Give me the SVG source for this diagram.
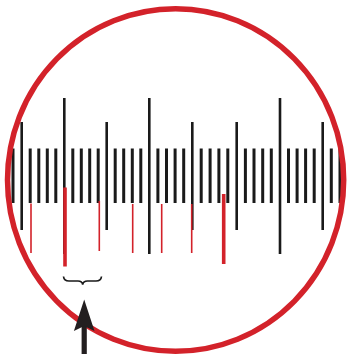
<svg xmlns="http://www.w3.org/2000/svg" width="347" height="354" viewBox="0 0 347 354">
<style>
.s{stroke:#1a1a1a;stroke-width:3;fill:none}
.m{stroke:#1a1a1a;stroke-width:2.6;fill:none}
.rt{stroke:#d3222a;stroke-width:1.6;fill:none}
.rk{stroke:#d3222a;stroke-width:3.6;fill:none}
</style>
<rect width="347" height="354" fill="#ffffff"/>
<g id="scale-short">
<path class="s" d="M13,148.5V203M30.2,148.5V203M38.8,148.5V203M47.3,148.5V203M55.8,148.5V203M72.8,148.5V203M81.3,148.5V203M89.7,148.5V203M98.2,148.5V203M115.2,148.5V203M123.7,148.5V203M132.3,148.5V203M140.8,148.5V203M157.9,148.5V203M166.5,148.5V203M175.1,148.5V203M183.7,148.5V203M201.2,148.5V203M210.1,148.5V203M218.9,148.5V203M227.8,148.5V203M245.4,148.5V203M254,148.5V203M262.7,148.5V203M271.3,148.5V203M288.5,148.5V203M297.1,148.5V203M305.6,148.5V203M314.2,148.5V203M331.3,148.5V203M340,148.5V203"/>
</g>
<g id="scale-medium">
<path class="m" d="M21.7,122V230M106.7,122V230M192.3,122V230M236.7,122V230M322.7,122V230"/>
</g>
<g id="scale-tall">
<path class="m" d="M64.3,98V254M149.3,98V254M280,98V254"/>
</g>
<g id="vernier">
<path class="rt" d="M31,203.5V253M99.3,201V251M132.7,204V253M161.7,204V253M191.7,204V253"/>
<path class="rk" d="M65,187.5V266.5M223.7,194V264"/>
</g>
<g id="lens">
<ellipse cx="175.6" cy="180" rx="168.1" ry="171.2" fill="none" stroke="#d3222a" stroke-width="5.5"/>
</g>
<g id="brace">
<path d="M63.5,276.5Q64,281 69,281L78,281Q82,281 82.7,284.5Q83.4,281 87.4,281L96,281Q101,281 101.5,276.5" fill="none" stroke="#1a1a1a" stroke-width="1.7"/>
</g>
<g id="pointer">
<rect x="81.6" y="322" width="5.2" height="32" fill="#231f20"/>
<path d="M84.2,299.5L94.5,331L84.2,326L73.9,331Z" fill="#231f20"/>
</g>
</svg>
